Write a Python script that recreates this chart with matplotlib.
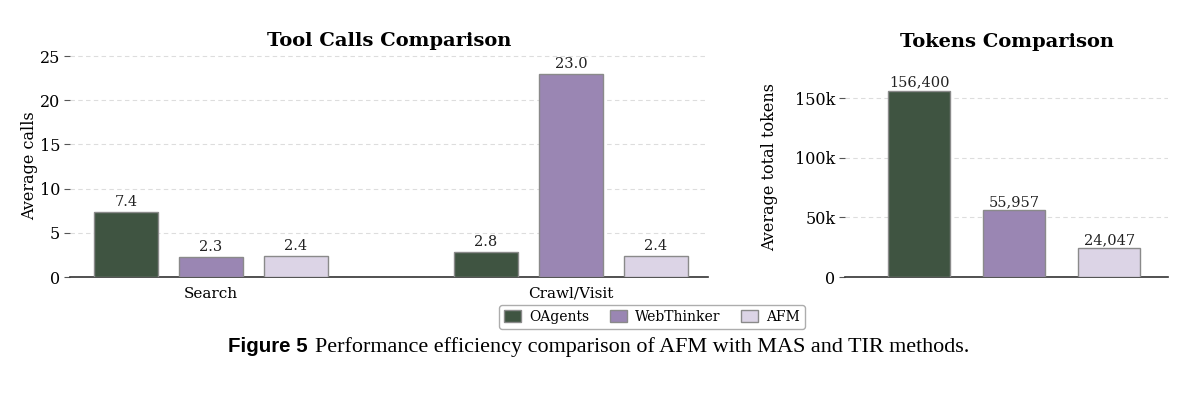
import matplotlib
matplotlib.use("Agg")
import matplotlib.pyplot as plt
import numpy as np
from matplotlib.ticker import FuncFormatter

methods = ["OAgents", "WebThinker", "AFM"]
tool_categories = ["Search", "Crawl/Visit"]
oagents_calls = [7.4, 2.8]
webthinker_calls = [2.3, 23.0]
afm_calls = [2.4, 2.4]
total_tokens = [156400, 55957, 24047]

colors = ["#3f5441", "#9a86b3", "#dcd4e6"]
edge = "#8a8a8a"
serif = "DejaVu Serif"

plt.rcParams["font.family"] = serif

fig = plt.figure(figsize=(11.99, 3.96), dpi=100)

# ---- left: tool calls ----
ax1 = fig.add_axes([0.0584, 0.3005, 0.532, 0.5646])
x = np.arange(len(tool_categories))
w = 0.178
off = 0.236
series = [oagents_calls, webthinker_calls, afm_calls]
for i, (vals, c, name) in enumerate(zip(series, colors, methods)):
    bars = ax1.bar(x + (i - 1) * off, vals, w, color=c, edgecolor=edge,
                   linewidth=1.0, label=name, zorder=3)
    for b, v in zip(bars, vals):
        ax1.text(b.get_x() + b.get_width() / 2, v + 0.35, f"{v:.1f}",
                 ha="center", va="bottom", fontsize=10.5, color="#222222")
ax1.set_xlim(-0.392, 1.381)
ax1.set_ylim(0, 25.3)
ax1.set_yticks([0, 5, 10, 15, 20, 25])
ax1.set_xticks(x)
ax1.set_xticklabels(tool_categories, fontsize=11)
ax1.set_ylabel("Average calls", fontsize=11.5, labelpad=1)
ax1.set_title("Tool Calls Comparison", fontsize=14, fontweight="bold", pad=5)
ax1.grid(axis="y", linestyle=(0, (4, 3)), color="#dddddd", linewidth=0.8, zorder=0)
for s in ["top", "right", "left"]:
    ax1.spines[s].set_visible(False)
ax1.spines["bottom"].set_color("#333333")
ax1.spines["bottom"].set_linewidth(1.2)
ax1.tick_params(axis="y", labelsize=11.5, length=4, color="#555555", width=0.8, pad=3)
ax1.tick_params(axis="x", length=0, pad=7)

# ---- right: tokens ----
ax2 = fig.add_axes([0.7048, 0.3005, 0.2694, 0.557])
xt = np.arange(len(methods))
bars = ax2.bar(xt, total_tokens, 0.65, color=colors, edgecolor=edge,
               linewidth=1.0, zorder=3)
for b, v in zip(bars, total_tokens):
    ax2.text(b.get_x() + b.get_width() / 2, v + 1000, f"{v:,}",
             ha="center", va="bottom", fontsize=10.5, color="#222222")
ax2.set_xlim(-0.78, 2.62)
ax2.set_ylim(0, 185000)
ax2.set_yticks([0, 50000, 100000, 150000])
ax2.yaxis.set_major_formatter(FuncFormatter(lambda v, p: "0" if v == 0 else f"{int(v/1000)}k"))
ax2.set_xticks([])
ax2.set_ylabel("Average total tokens", fontsize=11.5, labelpad=12)
ax2.set_title("Tokens Comparison", fontsize=14, fontweight="bold", pad=7)
ax2.grid(axis="y", linestyle=(0, (4, 3)), color="#dddddd", linewidth=0.8, zorder=0)
for s in ["top", "right", "left"]:
    ax2.spines[s].set_visible(False)
ax2.spines["bottom"].set_color("#333333")
ax2.spines["bottom"].set_linewidth(1.2)
ax2.tick_params(axis="y", labelsize=11.5, length=4, color="#555555", width=0.8, pad=3)

# ---- legend ----
handles, labels = ax1.get_legend_handles_labels()
leg = fig.legend(handles, labels, loc="center", bbox_to_anchor=(652 / 1199, 1 - 317 / 396),
                 ncol=3, fontsize=10, frameon=True, fancybox=True,
                 handlelength=1.2, handleheight=0.9, columnspacing=1.5,
                 handletextpad=0.6, borderpad=0.35)
leg.get_frame().set_edgecolor("#999999")
leg.get_frame().set_linewidth(1.0)

# ---- caption ----
fig.text(228 / 1199, 1 - 347 / 396, "Figure 5", fontsize=14.8, fontweight="bold",
         family="Liberation Sans", ha="left", va="center")
fig.text(315 / 1199, 1 - 347 / 396,
         "Performance efficiency comparison of AFM with MAS and TIR methods.",
         fontsize=15.9, family="Liberation Serif", ha="left", va="center")

fig.savefig("out.png", dpi=100, facecolor="white")
